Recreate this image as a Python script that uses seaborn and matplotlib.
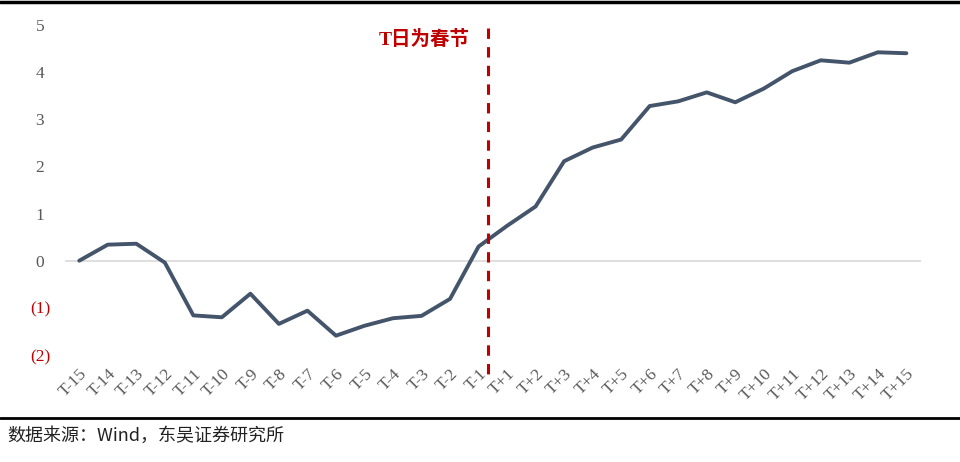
import seaborn as sns
from matplotlib import pyplot as plt
import matplotlib.lines as mlines
import pandas as pd

sns.set_theme(style='white')
plt.rcParams['font.family'] = ['Liberation Serif', 'Noto Sans CJK SC', 'DejaVu Sans']

days = ['T-15', 'T-14', 'T-13', 'T-12', 'T-11', 'T-10', 'T-9', 'T-8', 'T-7', 'T-6',
        'T-5', 'T-4', 'T-3', 'T-2', 'T-1',
        'T+1', 'T+2', 'T+3', 'T+4', 'T+5', 'T+6', 'T+7', 'T+8', 'T+9', 'T+10',
        'T+11', 'T+12', 'T+13', 'T+14', 'T+15']
values = [0.0, 0.34, 0.36, -0.04, -1.16, -1.20, -0.70, -1.34, -1.06, -1.59,
          -1.38, -1.22, -1.17, -0.81, 0.30,
          0.74, 1.15, 2.11, 2.40, 2.57, 3.28, 3.38, 3.57, 3.36, 3.65,
          4.02, 4.25, 4.20, 4.42, 4.40]
y_ticks = [-2, -1, 0, 1, 2, 3, 4, 5]
y_labels = ['(2)', '(1)', '0', '1', '2', '3', '4', '5']

df = pd.DataFrame({'day': days, 'value': values})

fig = plt.figure(figsize=(9.6, 4.62), dpi=100)
ax = fig.add_axes([0.0677, 0.2316, 0.8913, 0.7144])

ax.axhline(0, color='#D9D9D9', lw=1.2, zorder=1)
sns.lineplot(x='day', y='value', data=df, ax=ax, sort=False,
             color='#44546A', lw=2.8, zorder=3)

ax.set_xlim(-0.5, len(days) - 0.5)
ax.set_ylim(-2, 5)
ax.set_xlabel('')
ax.set_ylabel('')
ax.set_xticks(range(len(days)))
ax.set_xticklabels(days, rotation=45, ha='right', rotation_mode='anchor',
                   fontsize=12.5, color='#595959')
ax.set_yticks(y_ticks)
ax.set_yticklabels(y_labels, fontsize=12.5, ha='center')
for lab, v in zip(ax.get_yticklabels(), y_ticks):
    lab.set_color('#C00000' if v < 0 else '#595959')
ax.tick_params(axis='y', length=0, pad=18)
ax.tick_params(axis='x', length=0, pad=8)
sns.despine(ax=ax, left=True, bottom=True)

# 春节分界线
ax.plot([14.33, 14.33], [4.94, -2.42], color='#C00000', lw=2.2,
        dashes=(3.4, 2.7), clip_on=False, zorder=4)
ax.text(13.68, 4.7, 'T日为春节', color='#C00000', fontsize=14,
        fontweight='bold', ha='right', va='center',
        family=['Liberation Serif', 'Noto Sans CJK SC'])

# 上下边框线和来源
fig.add_artist(mlines.Line2D([0, 1], [0.995, 0.995], color='black', lw=2.5))
fig.add_artist(mlines.Line2D([0, 1], [1 - 418 / 462, 1 - 418 / 462], color='black', lw=2))
fig.text(0.008, 1 - 436 / 462, '数据来源：Wind，东吴证券研究所', fontsize=13,
         color='#222222', va='center', ha='left',
         family=['Noto Sans CJK SC', 'Liberation Serif'])

plt.savefig('out.png', dpi=100)
